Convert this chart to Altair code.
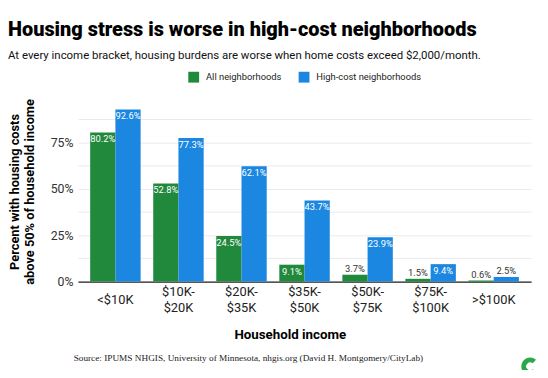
import altair as alt
import pandas as pd

brackets = ["<$10K", "$10K-$20K", "$20K-$35K", "$35K-$50K", "$50K-$75K", "$75K-$100K", ">$100K"]
series = ["All neighborhoods", "High-cost neighborhoods"]
all_vals = [80.2, 52.8, 24.5, 9.1, 3.7, 1.5, 0.6]
high_vals = [92.6, 77.3, 62.1, 43.7, 23.9, 9.4, 2.5]
colors = ["#21893C", "#1B87E0"]
y_grid = [0, 12.5, 25, 37.5, 50, 62.5, 75, 87.5]
title = "Housing stress is worse in high-cost neighborhoods"
subtitle = "At every income bracket, housing burdens are worse when home costs exceed $2,000/month."
y_title = ["Percent with housing costs", "above 50% of household income"]
x_title = "Household income"
source = "Source: IPUMS NHGIS, University of Minnesota, nhgis.org (David H. Montgomery/CityLab)"

rows = []
for b, a, h in zip(brackets, all_vals, high_vals):
    rows.append({"bracket": b, "series": series[0], "value": a})
    rows.append({"bracket": b, "series": series[1], "value": h})
df = pd.DataFrame(rows)

FONT = "Roboto, sans-serif"
W, H = 460, 183

label_expr = ("indexof(datum.label, '-') > 0 ? [slice(datum.label, 0, indexof(datum.label, '-') + 1), "
              "slice(datum.label, indexof(datum.label, '-') + 1)] : datum.label")

x = alt.X("bracket:N", sort=brackets,
          scale=alt.Scale(paddingInner=0.2, paddingOuter=0.194),
          axis=alt.Axis(title=x_title, labelExpr=label_expr, labelAngle=0,
                        labelBaseline="top",
                        labelPadding={"condition": {"test": "indexof(datum.value, '-') > 0", "value": 4},
                                      "value": 12},
                        ticks=False,
                        domainColor="#222222", domainWidth=1.2,
                        labelFont=FONT, labelFontSize=13, labelColor="#222222", labelLineHeight=16,
                        titleFont=FONT, titleFontSize=13.5, titleFontWeight="bold", titleColor="#000000",
                        titleX=215, titlePadding=14))
xo = alt.XOffset("series:N", sort=series, scale=alt.Scale(paddingInner=0, paddingOuter=0))
y = alt.Y("value:Q", scale=alt.Scale(domain=[0, 97], nice=False),
          axis=alt.Axis(values=y_grid, labelExpr="datum.value % 25 == 0 ? datum.value + '%' : ''",
                        grid=True, gridColor="#EBEBEB", gridWidth=1, ticks=False, domain=False,
                        labelFont=FONT, labelFontSize=12.5, labelColor="#333333", labelPadding=5,
                        title=y_title, titleFont=FONT, titleFontSize=13, titleFontWeight="bold",
                        titleColor="#000000", titlePadding=14, titleLineHeight=15))

base = alt.Chart(df)

bars = base.mark_bar().encode(
    x=x, xOffset=xo, y=y,
    color=alt.Color("series:N", sort=series, scale=alt.Scale(domain=series, range=colors),
                    legend=alt.Legend(title=None, orient="none", legendX=112, legendY=-30,
                                      direction="horizontal", symbolType="square", symbolSize=121,
                                      symbolStrokeWidth=0, labelFont=FONT, labelFontSize=9.5,
                                      labelColor="#222222", columnPadding=17, labelOffset=7,
                                      padding=0)),
)

lab = base.transform_calculate(lab="format(datum.value, '.1f') + '%'")
inside = lab.transform_filter("datum.value >= 5").mark_text(
    baseline="top", dy=2, color="white", font=FONT, fontSize=9.5
).encode(x=x, xOffset=xo, y=y, text="lab:N")
outside = lab.transform_filter("datum.value < 5").mark_text(
    baseline="bottom", dy=-1, color="#333333", font=FONT, fontSize=9.5
).encode(x=x, xOffset=xo, y=y, text="lab:N")

src = alt.Chart(pd.DataFrame({"t": [source]})).mark_text(
    font="Liberation Serif, DejaVu Serif, serif", fontSize=9.4, color="#222222", baseline="middle"
).encode(text="t:N", x=alt.value(173), y=alt.value(261))

logo = alt.Chart(pd.DataFrame({"t": [1]})).mark_arc(
    innerRadius=4, outerRadius=9, theta=2.4, theta2=7.0, color="#2AA84A"
).encode(x=alt.value(459), y=alt.value(269))

chart = alt.layer(bars, inside, outside, src, logo).properties(
    width=W, height=H,
    title=alt.TitleParams(text=title, subtitle=subtitle, anchor="start", frame="group", dx=-71,
                          font=FONT, fontSize=20.2, fontWeight=900, color="#000000",
                          subtitleFont=FONT, subtitleFontSize=11.6, subtitleColor="#111111",
                          subtitlePadding=10, offset=10),
    autosize=alt.AutoSizeParams(type="none"),
    padding={"left": 71, "top": 92, "right": 9, "bottom": 87},
).configure_view(stroke=None)

chart.save("out.html", embed_options={"renderer": "svg", "actions": False})
